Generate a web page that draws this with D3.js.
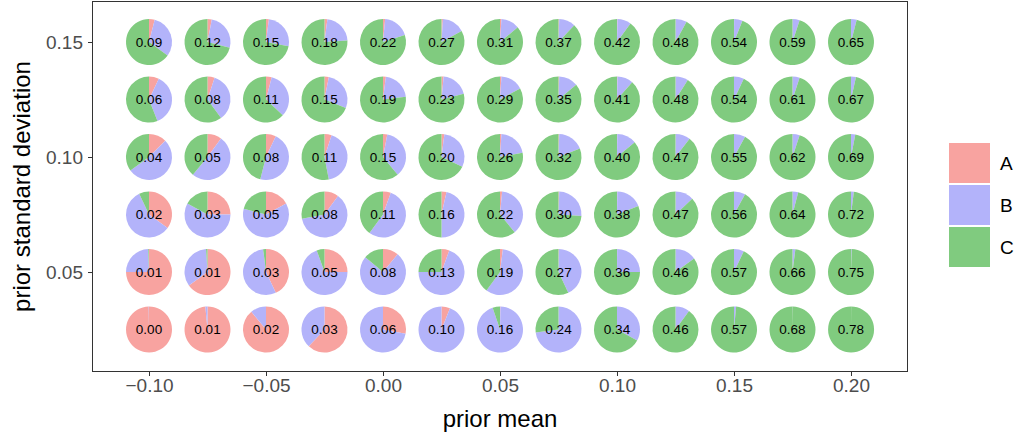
<!DOCTYPE html>
<html><head><meta charset="utf-8">
<script src="https://cdn.jsdelivr.net/npm/d3@7/dist/d3.min.js"></script>
<style>body{margin:0;background:#fff;} svg{display:block;font-family:"Liberation Sans",Arial,sans-serif;}</style>
</head><body>
<svg id="chart" width="1019" height="436"></svg>
<script>
const means = [-0.1,-0.075,-0.05,-0.025,0,0.025,0.05,0.075,0.1,0.125,0.15,0.175,0.2];
const sds = [0.025,0.05,0.075,0.1,0.125,0.15];
const categories = ["A","B","C"];
const colors = ["#f8a3a0","#b3b3fa","#80cb7f"];
const xTicks = [-0.1,-0.05,0,0.05,0.1,0.15,0.2];
const yTicks = [0.05,0.1,0.15];

// per row (sd), fractions of A, B, C for each mean
const fracA = [
 [0.998,0.985,0.89,0.62,0.28,0.06,0.003,0,0,0,0,0,0],
 [0.75,0.65,0.43,0.25,0.11,0.055,0.02,0.003,0.001,0,0,0,0],
 [0.35,0.25,0.17,0.10,0.055,0.035,0.015,0.005,0.002,0.001,0,0,0],
 [0.125,0.10,0.07,0.05,0.03,0.02,0.01,0.005,0.002,0.001,0,0,0],
 [0.07,0.05,0.04,0.03,0.02,0.015,0.01,0.005,0.003,0.001,0,0,0],
 [0.04,0.03,0.02,0.02,0.015,0.01,0.01,0.005,0.003,0.001,0.001,0,0]
];
const fracB = [
 [0.002,0.015,0.11,0.38,0.72,0.94,0.945,0.73,0.33,0.10,0.015,0.002,0.001],
 [0.245,0.34,0.55,0.695,0.75,0.695,0.58,0.427,0.249,0.15,0.07,0.02,0.005],
 [0.58,0.58,0.62,0.62,0.545,0.465,0.375,0.255,0.188,0.129,0.08,0.04,0.02],
 [0.525,0.51,0.47,0.42,0.36,0.30,0.21,0.185,0.138,0.104,0.08,0.05,0.03],
 [0.37,0.35,0.33,0.28,0.21,0.195,0.16,0.135,0.112,0.089,0.07,0.05,0.035],
 [0.31,0.26,0.26,0.22,0.185,0.16,0.13,0.115,0.097,0.079,0.059,0.05,0.04]
];
const fracC = [
 [0,0,0,0,0,0,0.052,0.27,0.67,0.90,0.985,0.998,0.999],
 [0.005,0.01,0.02,0.055,0.14,0.25,0.40,0.57,0.75,0.85,0.93,0.98,0.995],
 [0.07,0.17,0.21,0.28,0.40,0.50,0.61,0.74,0.81,0.87,0.92,0.96,0.98],
 [0.35,0.39,0.46,0.53,0.61,0.68,0.78,0.81,0.86,0.895,0.92,0.95,0.97],
 [0.56,0.60,0.63,0.69,0.77,0.79,0.83,0.86,0.885,0.91,0.93,0.95,0.965],
 [0.65,0.71,0.72,0.76,0.80,0.83,0.86,0.88,0.90,0.92,0.94,0.95,0.96]
];
const labels = [
 ["0.00","0.01","0.02","0.03","0.06","0.10","0.16","0.24","0.34","0.46","0.57","0.68","0.78"],
 ["0.01","0.01","0.03","0.05","0.08","0.13","0.19","0.27","0.36","0.46","0.57","0.66","0.75"],
 ["0.02","0.03","0.05","0.08","0.11","0.16","0.22","0.30","0.38","0.47","0.56","0.64","0.72"],
 ["0.04","0.05","0.08","0.11","0.15","0.20","0.26","0.32","0.40","0.47","0.55","0.62","0.69"],
 ["0.06","0.08","0.11","0.15","0.19","0.23","0.29","0.35","0.41","0.48","0.54","0.61","0.67"],
 ["0.09","0.12","0.15","0.18","0.22","0.27","0.31","0.37","0.42","0.48","0.54","0.59","0.65"]
];

const svg = d3.select("#chart");
const P = {l:92, r:908, t:1, b:372};
const x = d3.scaleLinear().domain([-0.12436, 0.22436]).range([P.l, P.r]);
const y = d3.scaleLinear().domain([0.00653, 0.16783]).range([P.b, P.t]);
const R = 23;

const fmtX = d => d3.format(".2f")(d).replace("-", "\u2212");

// axes
const gx = svg.append("g").attr("transform", `translate(0,${P.b})`)
  .call(d3.axisBottom(x).tickValues(xTicks).tickSize(4).tickPadding(3).tickFormat(fmtX));
const gy = svg.append("g").attr("transform", `translate(${P.l},0)`)
  .call(d3.axisLeft(y).tickValues(yTicks).tickSize(4).tickPadding(5).tickFormat(d3.format(".2f")));
[gx, gy].forEach(g => {
  g.select(".domain").remove();
  g.selectAll(".tick line").attr("stroke", "#333").attr("stroke-width", 1);
  g.selectAll(".tick text").attr("fill", "#4d4d4d").attr("font-size", 19)
    .attr("font-family", "Liberation Sans, Arial, sans-serif");
});

const pie = d3.pie().sort(null).value(d => d);
const arc = d3.arc().innerRadius(0).outerRadius(R);

sds.forEach((sd, ri) => {
  means.forEach((m, ci) => {
    const vals = [fracA[ri][ci], fracB[ri][ci], fracC[ri][ci]];
    const g = svg.append("g").attr("transform", `translate(${x(m)},${y(sd)})`);
    g.selectAll("path").data(pie(vals)).enter().append("path")
      .attr("d", arc).attr("fill", (d, i) => colors[i]);
    g.append("text").attr("text-anchor", "middle").attr("dy", "0.35em")
      .attr("font-size", 13.5).attr("fill", "#000").text(labels[ri][ci]);
  });
});

// panel border
svg.append("rect").attr("x", P.l + 0.5).attr("y", P.t + 0.5)
  .attr("width", P.r - P.l - 1).attr("height", P.b - P.t - 1)
  .attr("fill", "none").attr("stroke", "#333").attr("stroke-width", 1);

// axis titles
svg.append("text").attr("x", (P.l + P.r) / 2).attr("y", 427).attr("text-anchor", "middle")
  .attr("font-size", 24).attr("fill", "#000").text("prior mean");
svg.append("text").attr("transform", `translate(30,${(P.t + P.b) / 2}) rotate(-90)`)
  .attr("text-anchor", "middle").attr("font-size", 24).attr("fill", "#000").text("prior standard deviation");

// legend
const lg = svg.append("g").attr("transform", "translate(949,143)");
categories.forEach((c, i) => {
  lg.append("rect").attr("x", 0).attr("y", i * 42).attr("width", 41).attr("height", 40).attr("fill", colors[i]);
  lg.append("text").attr("x", 51).attr("y", i * 42 + 20).attr("dy", "0.35em")
    .attr("font-size", 19).attr("fill", "#000").text(c);
});
</script>
</body></html>
